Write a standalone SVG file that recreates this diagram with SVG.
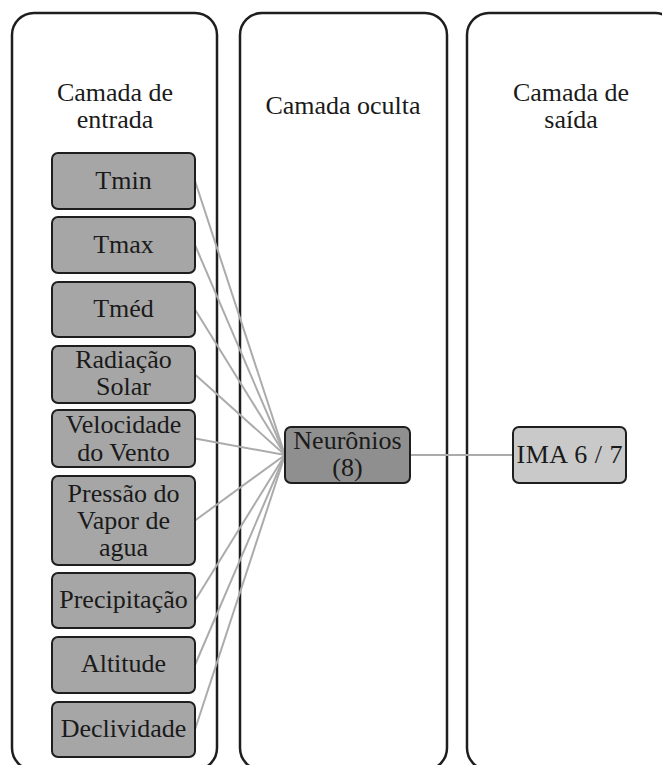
<svg xmlns="http://www.w3.org/2000/svg" width="662" height="765" viewBox="0 0 662 765">
<style>
.col{fill:#fff;stroke:#1e1e1e;stroke-width:2.5}
.in{fill:#a6a6a6;stroke:#1e1e1e;stroke-width:2}
.hid{fill:#8f8f8f;stroke:#1e1e1e;stroke-width:2}
.out{fill:#c9c9c9;stroke:#1e1e1e;stroke-width:2}
text{font-family:'Liberation Serif',serif;font-size:26px;fill:#1a1a1a;text-anchor:middle}
.c line{stroke:#ababab;stroke-width:2}
</style>
<rect width="662" height="765" fill="#fff"/>
<g id="col-entrada"><rect class="col" x="12" y="13" width="205" height="757" rx="22"/><text x="115" y="101">Camada de</text><text x="115" y="128">entrada</text></g>
<g id="col-oculta"><rect class="col" x="240" y="13" width="207" height="757" rx="22"/><text x="343" y="114">Camada oculta</text></g>
<g id="col-saida"><rect class="col" x="467" y="13" width="210" height="757" rx="22"/><text x="571" y="101">Camada de</text><text x="571" y="128">saída</text></g>
<g class="c" id="connectors">
<line x1="195" y1="181" x2="285" y2="455"/>
<line x1="195" y1="245" x2="285" y2="455"/>
<line x1="195" y1="309.5" x2="285" y2="455"/>
<line x1="195" y1="374.5" x2="285" y2="455"/>
<line x1="195" y1="438.5" x2="285" y2="455"/>
<line x1="195" y1="520.5" x2="285" y2="455"/>
<line x1="195" y1="600.5" x2="285" y2="455"/>
<line x1="195" y1="665" x2="285" y2="455"/>
<line x1="195" y1="729.5" x2="285" y2="455"/>
<line x1="410" y1="455" x2="513" y2="455"/>
</g>
<g id="n-tmin"><rect class="in" x="52" y="153" width="143" height="56" rx="6"/><text x="123.5" y="189">Tmin</text></g>
<g id="n-tmax"><rect class="in" x="52" y="217" width="143" height="56" rx="6"/><text x="123.5" y="253">Tmax</text></g>
<g id="n-tmed"><rect class="in" x="52" y="282" width="143" height="55" rx="6"/><text x="123.5" y="317">Tméd</text></g>
<g id="n-rad"><rect class="in" x="52" y="346" width="143" height="57" rx="6"/><text x="123.5" y="368">Radiação</text><text x="123.5" y="395">Solar</text></g>
<g id="n-vel"><rect class="in" x="52" y="410" width="143" height="57" rx="6"/><text x="123.5" y="433">Velocidade</text><text x="123.5" y="461">do Vento</text></g>
<g id="n-pres"><rect class="in" x="52" y="476" width="143" height="89" rx="6"/><text x="123.5" y="502">Pressão do</text><text x="123.5" y="529">Vapor de</text><text x="123.5" y="556">agua</text></g>
<g id="n-prec"><rect class="in" x="52" y="573" width="143" height="55" rx="6"/><text x="123.5" y="608">Precipitação</text></g>
<g id="n-alt"><rect class="in" x="52" y="637" width="143" height="56" rx="6"/><text x="123.5" y="672">Altitude</text></g>
<g id="n-decl"><rect class="in" x="52" y="702" width="143" height="55" rx="6"/><text x="123.5" y="737">Declividade</text></g>
<g id="n-neur"><rect class="hid" x="285" y="427" width="125" height="56" rx="6"/><text x="347.5" y="449">Neurônios</text><text x="347.5" y="476">(8)</text></g>
<g id="n-ima"><rect class="out" x="513" y="427" width="113" height="56" rx="6"/><text x="569.5" y="463" textLength="106" lengthAdjust="spacing">IMA 6 / 7</text></g>
</svg>
